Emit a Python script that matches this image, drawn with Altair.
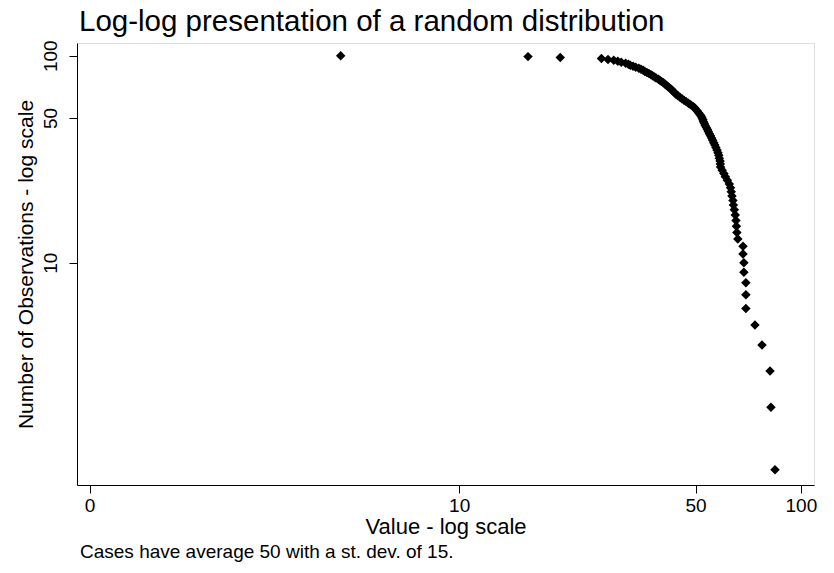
import altair as alt
import pandas as pd

# Sorted values (largest first)
values = [84.4, 82.2, 81.7, 77.5, 74.0, 69.7, 69.7, 69.7, 68.8, 68.8,
          68.4, 68.4, 66.1, 65.7, 65.5, 65.3, 65.0, 64.6, 64.2, 64.0,
          63.6, 63.3, 63.0, 62.5, 61.7, 60.9, 60.3, 59.6, 59.0, 58.9,
          58.8, 58.5, 58.3, 58.0, 57.6, 57.2, 56.8, 56.4, 56.0, 55.6,
          55.2, 54.8, 54.4, 54.1, 53.7, 53.3, 53.0, 52.7, 52.5, 52.2,
          51.9, 51.5, 51.0, 50.6, 50.1, 49.7, 49.1, 48.4, 47.7, 47.0,
          46.3, 45.7, 45.1, 44.5, 44.0, 43.6, 43.2, 42.9, 42.5, 42.0,
          41.6, 41.2, 40.8, 40.4, 39.9, 39.5, 39.1, 38.5, 38.1, 37.6,
          37.2, 36.7, 36.2, 35.7, 35.3, 34.8, 34.3, 33.6, 33.0, 32.4,
          32.0, 31.4, 30.5, 29.8, 29.0, 27.9, 26.7, 20.2, 16.2, 4.1]

observations = [1, 2, 3, 4, 5, 6, 7, 8, 9, 10,
                11, 12, 13, 14, 15, 16, 17, 18, 19, 20,
                21, 22, 23, 24, 25, 26, 27, 28, 29, 30,
                31, 32, 33, 34, 35, 36, 37, 38, 39, 40,
                41, 42, 43, 44, 45, 46, 47, 48, 49, 50,
                51, 52, 53, 54, 55, 56, 57, 58, 59, 60,
                61, 62, 63, 64, 65, 66, 67, 68, 69, 70,
                71, 72, 73, 74, 75, 76, 77, 78, 79, 80,
                81, 82, 83, 84, 85, 86, 87, 88, 89, 90,
                91, 92, 93, 94, 95, 96, 97, 98, 99, 100]

x_ticks = [0, 10, 50, 100]
y_ticks = [10, 50, 100]

title_text = "Log-log presentation of a random distribution"
x_title = "Value - log scale"
y_title = "Number of Observations - log scale"
note_text = "Cases have average 50 with a st. dev. of 15."

FONT = "Liberation Sans"

df = pd.DataFrame({"value": values, "obs": observations})

points = alt.Chart(df).mark_point(
    shape="diamond", filled=True, color="black", size=90, opacity=1
).encode(
    x=alt.X(
        "value:Q",
        scale=alt.Scale(type="symlog", constant=1, domain=[-0.085, 109], nice=False, zero=False),
        axis=alt.Axis(
            values=x_ticks, format="d", title=x_title, grid=False,
            labelFontSize=19, titleFontSize=22, labelFont=FONT, titleFont=FONT,
            labelColor="black", titleColor="black", titleFontWeight="normal",
            domainColor="black", tickColor="black", tickSize=8,
            labelPadding=3, titlePadding=1, labelFlush=False, labelOverlap=False,
        ),
    ),
    y=alt.Y(
        "obs:Q",
        scale=alt.Scale(type="log", domain=[0.843, 115.2], nice=False),
        axis=alt.Axis(
            values=y_ticks, format="d", title=y_title, grid=False,
            labelFontSize=19, titleFontSize=21, labelFont=FONT, titleFont=FONT,
            labelColor="black", titleColor="black", titleFontWeight="normal",
            domainColor="black", tickColor="black", tickSize=8,
            labelAngle=-90, labelAlign="center", labelBaseline="bottom",
            labelPadding=9, titlePadding=5, labelFlush=False, labelOverlap=False,
        ),
    ),
)

title_layer = alt.Chart(pd.DataFrame({"t": [title_text]})).mark_text(
    align="left", baseline="alphabetic", fontSize=29.5, font=FONT, color="black"
).encode(x=alt.value(2), y=alt.value(-12), text="t:N")

note = alt.Chart(pd.DataFrame({"t": [note_text]})).mark_text(
    align="left", baseline="alphabetic", fontSize=19, font=FONT, color="black"
).encode(x=alt.value(3), y=alt.value(515), text="t:N")

chart = alt.layer(points, title_layer, note).properties(
    width=737,
    height=442,
    autosize=alt.AutoSizeParams(type="none"),
    padding={"left": 69, "top": 35, "right": 12, "bottom": 80},
).configure_view(stroke=None).configure(background="white")

chart.save("out.html", embed_options={"renderer": "svg", "actions": False})
